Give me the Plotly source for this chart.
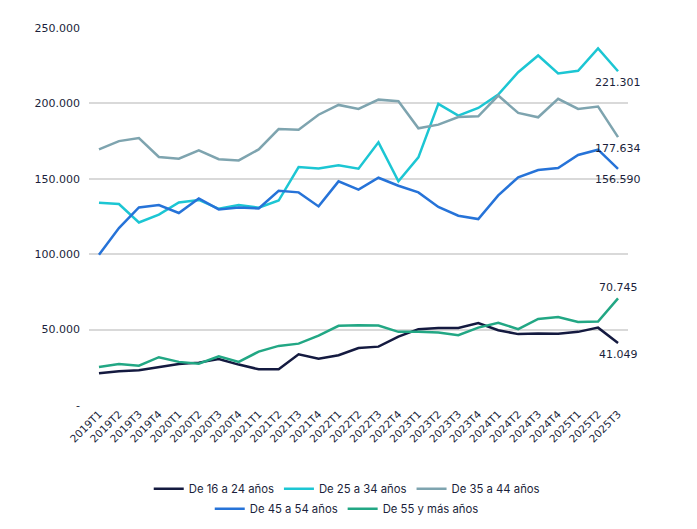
import plotly.graph_objects as go

quarters = [f"{y}T{q}" for y in range(2019, 2026) for q in range(1, 5)][:27]

edad_16_24 = [21000, 22400, 23000, 25000, 27200, 28100, 30500, 26800, 23700, 23700,
              33600, 30700, 33000, 37800, 38700, 45400, 50300, 51100, 51100, 54300,
              49600, 47000, 47400, 47200, 48500, 51300, 41049]
edad_25_34 = [134100, 133300, 121000, 126200, 134300, 136000, 130100, 132600, 130800, 135600,
              157800, 156900, 158900, 156700, 174200, 148300, 164200, 199700, 191900, 197000,
              205800, 220700, 231800, 219800, 221600, 236400, 221301]
edad_35_44 = [169500, 175000, 177000, 164500, 163300, 168900, 163000, 162200, 169500, 183000,
              182600, 192500, 199000, 196300, 202500, 201400, 183500, 185900, 191000, 191400,
              205200, 193700, 190800, 203000, 196300, 197900, 177634]
edad_45_54 = [99600, 117300, 131000, 132600, 127300, 137000, 129700, 131000, 130300, 142100,
              141000, 131700, 148300, 142800, 150700, 145400, 141000, 131300, 125500, 123300,
              139000, 151000, 155800, 157200, 165800, 169300, 156590]
edad_55_mas = [25200, 27200, 26100, 31700, 28600, 27400, 32300, 28600, 35400, 39200,
               40700, 46000, 52500, 52900, 52700, 48500, 48500, 48000, 46300, 51300,
               54500, 50300, 57100, 58400, 55100, 55300, 70745]

y_ticks = [0, 50000, 100000, 150000, 200000, 250000]
y_labels = ["-", "50.000", "100.000", "150.000", "200.000", "250.000"]

# name, values, colour, label above (+) or below (-) the last point, legend row
series = [
    ("De 16 a 24 años", edad_16_24, "#141a40", -1, "legend"),
    ("De 25 a 34 años", edad_25_34, "#1cc6d3", -1, "legend"),
    ("De 35 a 44 años", edad_35_44, "#7ea4af", -1, "legend"),
    ("De 45 a 54 años", edad_45_54, "#2673d8", -1, "legend2"),
    ("De 55 y más años", edad_55_mas, "#22a784", 1, "legend2"),
]

def fmt(v):
    return f"{v:,}".replace(",", ".")

fig = go.Figure()
for name, vals, color, side, leg in series:
    fig.add_trace(go.Scatter(
        x=quarters, y=vals, name=name, mode="lines",
        line=dict(color=color, width=2.5),
        legend=leg,
    ))
    fig.add_annotation(
        x=quarters[-1], y=vals[-1], text=fmt(vals[-1]), showarrow=False,
        yanchor="middle", yshift=11 * side,
        font=dict(family="DejaVu Sans", size=11, color="#1b1f3b"),
    )

# the page puts the chart 8px right and down, margins are shifted to match
leg_common = dict(orientation="h", xref="container", xanchor="center", x=0.486,
                  yanchor="middle",
                  font=dict(family="Inter", size=11.3, color="#1b1f3b"),
                  itemwidth=30, bgcolor="rgba(0,0,0,0)")

fig.update_layout(
    width=697, height=529,
    margin=dict(l=81, r=77, t=20, b=132, autoexpand=False),
    paper_bgcolor="white", plot_bgcolor="white",
    showlegend=True,
    legend=dict(**leg_common, y=-0.222),
    legend2=dict(**leg_common, y=-0.275),
    xaxis=dict(tickangle=-45, showgrid=False, zeroline=False, showline=False,
               automargin=False, range=[-0.5, len(quarters) - 0.5],
               tickfont=dict(family="DejaVu Sans", size=10.5, color="#1b1f3b"),
               ticks=""),
    yaxis=dict(range=[0, 250000], tickvals=y_ticks, ticktext=y_labels,
               automargin=False,
               showgrid=True, gridcolor="#d9d9d9", gridwidth=1.5, zeroline=False,
               tickfont=dict(family="DejaVu Sans", size=11, color="#1b1f3b"),
               ticklabelstandoff=8),
)

fig.write_html("out.html")
